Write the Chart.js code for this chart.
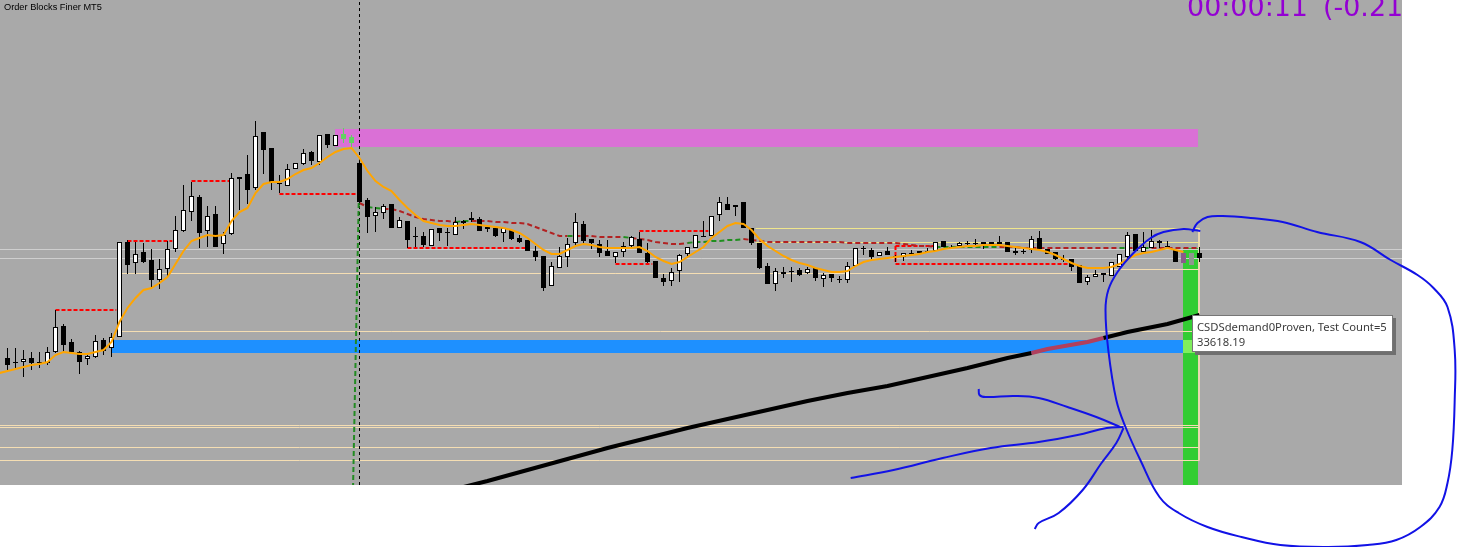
<!DOCTYPE html>
<html lang="en">
<head>
<meta charset="UTF-8">
<title>Order Blocks Finer MT5</title>
<script src="https://cdn.jsdelivr.net/npm/chart.js"></script>
<style>
  html, body { margin: 0; padding: 0; background: #fff; overflow: hidden; }
  canvas { display: block; }
</style>
</head>
<body>
<canvas id="chart" width="1458" height="547"></canvas>
<script>
// OHLC, one candle per bar index (bar 0 = left edge)
const opens = [
  33642, 33638, 33638, 33642, 33638, 33637, 33648, 33674, 33658, 33648,
  33641, 33643, 33660, 33652, 33663, 33758, 33737, 33748, 33740, 33720,
  33731, 33751, 33769, 33788, 33803, 33769, 33786, 33756, 33766, 33821,
  33826, 33812, 33868, 33852, 33817, 33814, 33831, 33836, 33848, 33838,
  33866, 33854, 33861, 33857, 33837, 33800, 33784, 33787, 33796, 33772,
  33779, 33764, 33764, 33754, 33772, 33768, 33765, 33779, 33782, 33781,
  33771, 33772, 33767, 33770, 33762, 33760, 33749, 33744, 33714, 33732,
  33743, 33757, 33776, 33761, 33756, 33749, 33743, 33748, 33754, 33761,
  33747, 33739, 33722, 33719, 33729, 33746, 33752, 33764, 33764, 33785,
  33796, 33793, 33798, 33772, 33757, 33734, 33716, 33726, 33729, 33730,
  33727, 33732, 33721, 33726, 33721, 33720, 33734, 33752, 33750, 33744,
  33749, 33744, 33743, 33747, 33747, 33749, 33749, 33759, 33753, 33754,
  33757, 33757, 33756, 33758, 33758, 33758, 33747, 33749, 33750, 33762,
  33751, 33748, 33741, 33741, 33735, 33718, 33723, 33727, 33724, 33733,
  33743, 33766, 33748, 33752, 33759, 33754, 33750, 33747, 33747, 33747
];
const highs = [
  33652, 33652, 33650, 33648, 33648, 33653, 33690, 33676, 33661, 33649,
  33647, 33665, 33662, 33667, 33758, 33760, 33758, 33757, 33751, 33741,
  33759, 33784, 33815, 33818, 33805, 33794, 33794, 33768, 33827, 33823,
  33845, 33879, 33868, 33852, 33825, 33836, 33837, 33851, 33849, 33865,
  33866, 33865, 33872, 33865, 33840, 33802, 33793, 33796, 33796, 33783,
  33779, 33773, 33768, 33771, 33772, 33772, 33783, 33780, 33788, 33783,
  33773, 33772, 33772, 33771, 33765, 33760, 33754, 33744, 33738, 33753,
  33762, 33787, 33779, 33761, 33760, 33760, 33748, 33758, 33764, 33768,
  33757, 33739, 33726, 33732, 33746, 33753, 33765, 33779, 33784, 33803,
  33803, 33795, 33798, 33772, 33757, 33737, 33732, 33733, 33733, 33732,
  33733, 33732, 33727, 33726, 33724, 33738, 33752, 33754, 33752, 33748,
  33753, 33745, 33747, 33750, 33749, 33752, 33758, 33759, 33755, 33758,
  33759, 33761, 33758, 33758, 33764, 33758, 33752, 33753, 33764, 33769,
  33751, 33748, 33745, 33741, 33735, 33725, 33730, 33727, 33738, 33746,
  33768, 33766, 33768, 33770, 33760, 33759, 33750, 33747, 33747, 33753
];
const lows = [
  33630, 33632, 33623, 33630, 33632, 33635, 33647, 33647, 33647, 33626,
  33635, 33642, 33645, 33643, 33663, 33726, 33726, 33737, 33713, 33711,
  33722, 33748, 33768, 33779, 33752, 33753, 33753, 33746, 33765, 33790,
  33796, 33810, 33826, 33810, 33807, 33814, 33831, 33835, 33835, 33835,
  33852, 33854, 33857, 33853, 33795, 33767, 33768, 33781, 33772, 33772,
  33752, 33753, 33753, 33754, 33759, 33754, 33765, 33771, 33778, 33769,
  33768, 33763, 33758, 33760, 33757, 33749, 33739, 33709, 33714, 33732,
  33733, 33755, 33757, 33751, 33743, 33744, 33737, 33743, 33753, 33747,
  33737, 33722, 33714, 33714, 33718, 33742, 33752, 33763, 33764, 33779,
  33790, 33784, 33772, 33755, 33731, 33716, 33709, 33722, 33718, 33724,
  33726, 33719, 33713, 33718, 33717, 33717, 33734, 33745, 33741, 33744,
  33745, 33738, 33739, 33746, 33747, 33748, 33749, 33753, 33751, 33753,
  33754, 33754, 33751, 33755, 33755, 33748, 33745, 33746, 33747, 33749,
  33746, 33740, 33738, 33729, 33717, 33715, 33723, 33718, 33724, 33733,
  33742, 33749, 33748, 33752, 33752, 33753, 33738, 33737, 33735, 33738
];
const closes = [
  33635, 33637, 33641, 33637, 33637, 33648, 33673, 33655, 33648, 33638,
  33644, 33659, 33649, 33663, 33758, 33735, 33746, 33738, 33720, 33731,
  33751, 33770, 33790, 33804, 33767, 33784, 33753, 33765, 33822, 33823,
  33810, 33864, 33850, 33818, 33816, 33831, 33837, 33847, 33839, 33865,
  33855, 33865, 33866, 33863, 33798, 33783, 33788, 33794, 33772, 33780,
  33760, 33763, 33755, 33771, 33767, 33767, 33778, 33777, 33780, 33769,
  33773, 33764, 33772, 33761, 33758, 33749, 33743, 33712, 33734, 33744,
  33756, 33778, 33759, 33757, 33747, 33744, 33748, 33754, 33763, 33747,
  33738, 33722, 33718, 33728, 33745, 33753, 33765, 33763, 33784, 33798,
  33790, 33795, 33772, 33757, 33732, 33716, 33729, 33728, 33728, 33725,
  33731, 33722, 33725, 33722, 33720, 33734, 33752, 33751, 33743, 33748,
  33745, 33743, 33747, 33746, 33749, 33748, 33758, 33753, 33752, 33757,
  33756, 33756, 33758, 33755, 33756, 33748, 33749, 33748, 33761, 33751,
  33746, 33741, 33740, 33733, 33717, 33723, 33726, 33725, 33738, 33746,
  33765, 33749, 33753, 33759, 33757, 33753, 33738, 33737, 33735, 33742
];
// candles painted by the indicator (bar index -> kind)
const paintedBars = { 42: 'signal', 43: 'signal', 147: 'zoneA', 148: 'zoneB' };

// fast moving average, starts one bar before the first visible candle
const fastStart = -1;
const fastMA = [
  33627,
  33629, 33631, 33633, 33635, 33636, 33638, 33645, 33648, 33647, 33646,
  33646, 33648, 33650, 33658, 33678, 33692, 33702, 33710, 33712, 33717,
  33723, 33736, 33749, 33759, 33762, 33765, 33764, 33765, 33779, 33788,
  33792, 33807, 33816, 33818, 33818, 33821, 33826, 33830, 33832, 33837,
  33843, 33848, 33851, 33852, 33842, 33829, 33819, 33813, 33809, 33800,
  33792, 33785, 33779, 33777, 33775, 33774, 33774, 33775, 33776, 33775,
  33774, 33773, 33772, 33770, 33767, 33762, 33756, 33750, 33746, 33746,
  33750, 33754, 33756, 33755, 33753, 33752, 33752, 33752, 33752, 33753,
  33749, 33743, 33739, 33736, 33738, 33743, 33748, 33753, 33762, 33768,
  33774, 33777, 33776, 33770, 33761, 33754, 33749, 33744, 33740, 33737,
  33735, 33732, 33730, 33728, 33728, 33729, 33734, 33738, 33740, 33741,
  33742, 33743, 33744, 33745, 33746, 33748, 33749, 33751, 33752, 33753,
  33754, 33754, 33755, 33755, 33755, 33754, 33753, 33752, 33751, 33750,
  33748, 33745, 33741, 33737, 33734, 33732, 33732, 33732, 33733, 33736,
  33741, 33745, 33747, 33748, 33750, 33752, 33750, 33748
];

// dashed signal line from bar 44 on; green where listed
const signalStart = 44;
const signalLine = [
  33797, 33793, 33792, 33791, 33791, 33789,
  33786, 33783, 33781, 33780, 33779, 33779, 33778, 33779, 33779, 33779,
  33779, 33778, 33778, 33777, 33777, 33776, 33773, 33770, 33767, 33764,
  33764, 33764, 33764, 33764, 33763, 33763, 33763, 33763, 33762, 33761,
  33760, 33758, 33757, 33756, 33756, 33757, 33758, 33758, 33759, 33759,
  33760, 33760, 33761, 33760, 33759, 33758, 33758, 33758, 33758, 33758,
  33758, 33758, 33758, 33758, 33758, 33757, 33757, 33757, 33757, 33757,
  33757, 33757, 33756, 33755, 33754, 33754, 33753, 33753, 33753, 33753,
  33753, 33753, 33753, 33753, 33753, 33753, 33753, 33752, 33752, 33752,
  33752, 33752, 33752, 33752, 33752, 33752, 33752, 33752, 33752, 33752,
  33752, 33752, 33752, 33752, 33752, 33752, 33752, 33752, 33752, 33752
];
const signalGreenBars = [45, 46, 56, 57, 70, 77, 85, 86, 87, 88, 89, 90, 91,
  116, 117, 118, 119, 120, 121, 122, 123, 139, 142];

// slow moving average (sampled bars)
const slowBars = [55, 60, 65, 70, 75, 80, 85, 90, 95, 100, 105, 110, 115, 120, 125, 128, 130, 135, 137, 140, 145, 149];
const slowMA =   [33509, 33519, 33530, 33541, 33552, 33562, 33572, 33581, 33590, 33599, 33607, 33614, 33623, 33632, 33642, 33647, 33651, 33658, 33662, 33668, 33676, 33685];
const slowInZone = [128, 137];

// zones: [fromBar, toBar, top, bottom]
const supplyZone = [40.94, 148.81, 33871, 33853];
const demandZone = [13.06, 146.94, 33660, 33647];
const liveBar = [146.94, 148.81, 33752, 33515];
const liveDemand = [146.94, 148.81, 33660, 33647];

// order block levels
const obPrice = [33690, 33759, 33819, 33806, 33752, 33769, 33736, 33754, 33736];
const obFrom  = [6, 15, 23, 34, 50, 79, 76, 111, 111];
const obTo    = [13.6, 20.6, 27.9, 43.6, 64.7, 87.6, 80.6, 115.8, 132.8];

// horizontal levels
const grayLevels  = [33750.5, 33741.5];
const wheatLevels = [33726.5, 33730.5, 33668.5, 33574.5, 33572.5, 33552.5, 33539.5];
const wheatFrom   = [14.3, 137.8, 14.3, -1, -1, -1, -1];
const wheatTo     = [137.8, 148.94, 148.94, 148.94, 148.94, 148.94, 148.94];
const khakiLevels = [33771.5, 33757.5];
const khakiFrom   = 93.5;
const khakiTo     = 148.94;

// current bar marker and break line
const cursorBar = 44;
const breakLine = [[43.9, 33797], [43.2, 33515]];

// hand drawn marks (bar, price)
const loopMark = [
  [148.1, 33768], [148.75, 33777], [150, 33783], [151.9, 33784], [155.4, 33782], [159.4, 33778],
  [163.7, 33768], [169.1, 33758], [172.9, 33740], [176.25, 33725], [178.25, 33712], [180, 33693],
  [180.9, 33650], [180.9, 33600], [180.6, 33550], [180, 33517], [179, 33493], [176.6, 33473],
  [173.6, 33460], [170, 33455], [165.1, 33453], [159.1, 33455], [154.25, 33463], [150, 33473],
  [146.4, 33487], [144, 33503], [141.6, 33540], [139.75, 33573], [138.6, 33600], [137.6, 33650],
  [137.25, 33690], [137.6, 33710], [138.75, 33728], [140.75, 33747], [142.9, 33762], [144.5, 33768],
  [147, 33771], [149.1, 33769]
];
const arrowShaft = [[105.4, 33522], [110.75, 33530], [116.9, 33542], [122.9, 33552], [128.9, 33558], [133.75, 33565], [137.4, 33572], [139.5, 33573]];
const arrowUpper = [[121.4, 33611], [121.5, 33605], [122.25, 33603], [125.9, 33604], [128.9, 33602], [132.5, 33593], [136.1, 33583], [139.1, 33573]];
const arrowLower = [[139.5, 33572], [138.6, 33557], [136.75, 33537], [134.4, 33510], [131.4, 33487], [128.9, 33477], [128.4, 33471]];

const titleText = 'Order Blocks Finer MT5';
const timerText = '00:00:11';
const changeText = '(-0.21%)';
const hintLines = ['CSDSdemand0Proven, Test Count=5', '33618.19'];

// ---------- build datasets ----------
const pts = arr => arr.map(p => ({ x: p[0], y: p[1] }));

function lineSet(points, color, width, dash, order, extra) {
  return Object.assign({
    type: 'line', data: points, borderColor: color, borderWidth: width,
    borderDash: dash || [], pointRadius: 0, tension: 0, fill: false, order: order
  }, extra || {});
}
function zoneSet(z, color, order) {
  return {
    type: 'line', data: [{ x: z[0], y: z[2] }, { x: z[1], y: z[2] }],
    borderWidth: 0, borderColor: 'rgba(0,0,0,0)', backgroundColor: color,
    pointRadius: 0, fill: { value: z[3] }, order: order
  };
}

const paintColor = { signal: '#62d162', zoneA: '#8a5c8a', zoneB: '#8e978e' };
const bars = opens.map((_, i) => i);
const bodyFill = bars.map(i => paintedBars[i] ? paintColor[paintedBars[i]] : (closes[i] > opens[i] ? '#ffffff' : '#000000'));
const bodyEdge = bars.map(i => paintedBars[i] ? paintColor[paintedBars[i]] : '#000000');
const wickColor = bars.map(i => paintedBars[i] === 'signal' ? '#62d162' : '#000000');

const datasets = [];
datasets.push(zoneSet(supplyZone, '#da70d6', 100));
datasets.push(zoneSet(demandZone, '#1e90ff', 100));
datasets.push(zoneSet(liveBar, '#32cd32', 99));
datasets.push(zoneSet(liveDemand, '#80ee5e', 98));

grayLevels.forEach(p => datasets.push(lineSet([{ x: -1, y: p }, { x: 175, y: p }], '#cfcfcf', 1, null, 90)));
wheatLevels.forEach((p, k) => datasets.push(lineSet([{ x: wheatFrom[k], y: p }, { x: wheatTo[k], y: p }], '#f5deb3', 1, null, 90)));
khakiLevels.forEach(p => datasets.push(lineSet([{ x: khakiFrom, y: p }, { x: khakiTo, y: p }], '#f0e68c', 1, null, 90)));
datasets.push(lineSet([{ x: khakiTo, y: khakiLevels[0] }, { x: khakiTo, y: wheatLevels[6] }], '#f5deb3', 1, null, 90));

datasets.push(lineSet([{ x: cursorBar, y: 33515 }, { x: cursorBar, y: 34000 }], '#000000', 1, [3, 3], 85));

obPrice.forEach((p, k) => datasets.push(lineSet([{ x: obFrom[k], y: p }, { x: obTo[k], y: p }], '#ff0000', 2, [4, 2], 80)));
datasets.push(lineSet([{ x: obFrom[7], y: obPrice[7] }, { x: obFrom[8], y: obPrice[8] }], '#ff0000', 2, [4, 2], 80));

datasets.push(lineSet(slowBars.map((b, k) => ({ x: b, y: slowMA[k] })), '#000000', 4, null, 75, {
  segment: { borderColor: c => (c.p0.parsed.x >= slowInZone[0] && c.p0.parsed.x < slowInZone[1]) ? '#b0405e' : '#000000' }
}));

datasets.push(lineSet(signalLine.map((v, k) => ({ x: signalStart + k, y: v })), '#b22222', 2, [5, 3], 70, {
  segment: { borderColor: c => signalGreenBars.includes(signalStart + c.p0DataIndex) ? '#1f8f1f' : '#b22222' }
}));

datasets.push({
  type: 'bar', data: bars.map(i => ({ x: i, y: [lows[i], highs[i]] })),
  barThickness: 1, grouped: false, backgroundColor: wickColor, borderWidth: 0,
  inflateAmount: 0, order: 60
});
datasets.push({
  type: 'bar', data: bars.map(i => ({ x: i, y: [opens[i], closes[i]] })),
  barThickness: 5, grouped: false, backgroundColor: bodyFill, borderColor: bodyEdge,
  borderWidth: 1, borderSkipped: false, inflateAmount: 0, order: 55
});

datasets.push(lineSet(fastMA.map((v, k) => ({ x: fastStart + k, y: v })), '#ffa500', 2, null, 50));
datasets.push(lineSet(pts(breakLine), '#228b22', 2, [5, 3], 45));

const blue = '#1212e6';
[loopMark, arrowShaft, arrowUpper, arrowLower].forEach(m =>
  datasets.push(lineSet(pts(m), blue, 2, null, 10, { tension: 0.4, clip: false })));

// ---------- background and labels ----------
const backdrop = {
  id: 'backdrop',
  beforeDraw(chart) {
    const { ctx, chartArea: a } = chart;
    ctx.save();
    ctx.fillStyle = '#ffffff';
    ctx.fillRect(0, 0, chart.width, chart.height);
    ctx.fillStyle = '#a9a9a9';
    ctx.fillRect(a.left, a.top, a.right - a.left, a.bottom - a.top);
    ctx.restore();
  }
};

function fitSize(ctx, text, family, width, base) {
  ctx.font = base + 'px ' + family;
  return base * width / ctx.measureText(text).width;
}

const labels = {
  id: 'labels',
  afterDatasetsDraw(chart) {
    const { ctx, chartArea: a } = chart;
    ctx.save();
    ctx.beginPath();
    ctx.rect(a.left, a.top, a.right - a.left, a.bottom - a.top);
    ctx.clip();
    ctx.textBaseline = 'alphabetic';
    // indicator title
    ctx.fillStyle = '#000000';
    const ts = fitSize(ctx, titleText, '"Liberation Sans", Arial, sans-serif', 98, 10);
    ctx.font = ts.toFixed(2) + 'px "Liberation Sans", Arial, sans-serif';
    ctx.fillText(titleText, 4, 10);
    // countdown and change, cut by the window edge
    ctx.fillStyle = '#9400d3';
    const cf = '"DejaVu Sans", Verdana, sans-serif';
    const cs = fitSize(ctx, timerText, cf, 121, 27);
    ctx.font = cs.toFixed(2) + 'px ' + cf;
    ctx.fillText(timerText, 1187, 16);
    ctx.fillText(changeText, 1323, 16);
    ctx.restore();

    // hint box
    ctx.save();
    const bx = 1192, by = 315, bw = 201, bh = 37;
    ctx.fillStyle = '#6f6f6f';
    ctx.fillRect(bx + 3, by + 3, bw, bh);
    ctx.fillStyle = '#ffffff';
    ctx.fillRect(bx, by, bw, bh);
    ctx.strokeStyle = '#767676';
    ctx.lineWidth = 1;
    ctx.strokeRect(bx + 0.5, by + 0.5, bw - 1, bh - 1);
    const fam = '"Noto Sans", "Open Sans", sans-serif';
    const hs = fitSize(ctx, hintLines[0], fam, 190, 12);
    ctx.font = hs.toFixed(2) + 'px ' + fam;
    ctx.fillStyle = '#3c3c3c';
    ctx.fillText(hintLines[0], bx + 5, by + 16);
    ctx.fillText(hintLines[1], bx + 5, by + 31);
    ctx.restore();
  }
};

new Chart(document.getElementById('chart'), {
  type: 'bar',
  data: { datasets: datasets },
  options: {
    responsive: false,
    animation: false,
    devicePixelRatio: 1,
    events: [],
    layout: { padding: { left: 0, top: 0, right: 56, bottom: 62 } },
    scales: {
      x: { type: 'linear', min: -0.9375, max: 174.3125, offset: false, display: false },
      y: { type: 'linear', min: 33515, max: 34000, display: false }
    },
    plugins: { legend: { display: false }, tooltip: { enabled: false } }
  },
  plugins: [backdrop, labels]
});
</script>
</body>
</html>
